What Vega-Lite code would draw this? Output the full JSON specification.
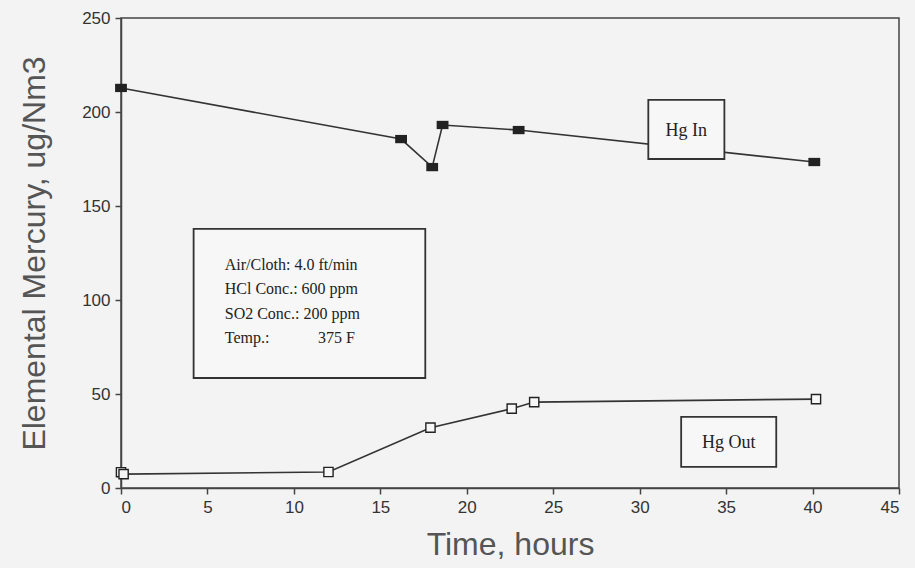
{
  "$schema": "https://vega.github.io/schema/vega-lite/v6.json",
  "width": 778,
  "height": 470,
  "padding": {"left": 121, "top": 18, "right": 16, "bottom": 80},
  "autosize": {"type": "none"},
  "background": "#f3f3f3",
  "config": {
    "view": {"stroke": "#444", "strokeWidth": 1.5},
    "axis": {
      "grid": false,
      "domainColor": "#444",
      "domainWidth": 1.5,
      "tickColor": "#444",
      "tickWidth": 1.5,
      "tickSize": 6,
      "labelFont": "Liberation Sans",
      "labelFontSize": 17,
      "labelColor": "#333",
      "titleFont": "Liberation Sans",
      "titleFontSize": 32,
      "titleFontWeight": "normal",
      "titleColor": "#555"
    }
  },
  "datasets": {
    "series": [
      {"series": "Hg In", "time": 0, "value": 212.8},
      {"series": "Hg In", "time": 16.2, "value": 185.6},
      {"series": "Hg In", "time": 18.0, "value": 170.7},
      {"series": "Hg In", "time": 18.6, "value": 193.1},
      {"series": "Hg In", "time": 23.0, "value": 190.4},
      {"series": "Hg In", "time": 40.1, "value": 173.4},
      {"series": "Hg Out", "time": 0, "value": 8.4},
      {"series": "Hg Out", "time": 0.15, "value": 7.4},
      {"series": "Hg Out", "time": 12.0, "value": 8.5},
      {"series": "Hg Out", "time": 17.9, "value": 32.1},
      {"series": "Hg Out", "time": 22.6, "value": 42.2},
      {"series": "Hg Out", "time": 23.9, "value": 45.7},
      {"series": "Hg Out", "time": 40.2, "value": 47.3}
    ],
    "boxes": [
      {"x": 30.5, "x2": 34.9, "y": 206.4, "y2": 175.0},
      {"x": 32.4, "x2": 37.9, "y": 37.8, "y2": 11.2},
      {"x": 4.2, "x2": 17.6, "y": 137.8, "y2": 58.5}
    ],
    "centerLabels": [
      {"x": 32.7, "y": 190.0, "label": "Hg In"},
      {"x": 35.15, "y": 24.0, "label": "Hg Out"}
    ],
    "leftLabels": [
      {"x": 6.0, "y": 118.6, "label": "Air/Cloth: 4.0 ft/min"},
      {"x": 6.0, "y": 105.9, "label": "HCl Conc.: 600 ppm"},
      {"x": 6.0, "y": 92.6, "label": "SO2 Conc.: 200 ppm"},
      {"x": 6.0, "y": 79.8, "label": "Temp.:"},
      {"x": 11.4, "y": 79.8, "label": "375 F"}
    ]
  },
  "layer": [
    {
      "data": {"name": "series"},
      "transform": [{"filter": "datum.series === 'Hg In'"}],
      "mark": {"type": "line", "color": "#333", "strokeWidth": 1.6},
      "encoding": {
        "x": {"field": "time", "type": "quantitative", "scale": {"domain": [0, 45], "nice": false},
              "axis": {"values": [0, 5, 10, 15, 20, 25, 30, 35, 40, 45], "title": "Time, hours", "labelPadding": 5, "titlePadding": 14}},
        "y": {"field": "value", "type": "quantitative", "scale": {"domain": [0, 250], "nice": false},
              "axis": {"values": [0, 50, 100, 150, 200, 250], "title": "Elemental Mercury, ug/Nm3", "labelPadding": 5, "titlePadding": 30}}
      }
    },
    {
      "data": {"name": "series"},
      "transform": [{"filter": "datum.series === 'Hg Out'"}],
      "mark": {"type": "line", "color": "#333", "strokeWidth": 1.6},
      "encoding": {
        "x": {"field": "time", "type": "quantitative"},
        "y": {"field": "value", "type": "quantitative"}
      }
    },
    {
      "data": {"name": "boxes"},
      "mark": {"type": "rect", "fill": "#f7f7f7", "stroke": "#333", "strokeWidth": 1.8},
      "encoding": {
        "x": {"field": "x", "type": "quantitative"},
        "x2": {"field": "x2"},
        "y": {"field": "y", "type": "quantitative"},
        "y2": {"field": "y2"}
      }
    },
    {
      "data": {"name": "series"},
      "transform": [{"filter": "datum.series === 'Hg In'"}],
      "mark": {"type": "point", "shape": "M-1,-0.7L1,-0.7L1,0.7L-1,0.7Z", "filled": true, "color": "#222", "size": 140, "opacity": 1},
      "encoding": {
        "x": {"field": "time", "type": "quantitative"},
        "y": {"field": "value", "type": "quantitative"}
      }
    },
    {
      "data": {"name": "series"},
      "transform": [{"filter": "datum.series === 'Hg Out'"}],
      "mark": {"type": "point", "shape": "square", "filled": false, "fill": "#f7f7f7", "stroke": "#222", "strokeWidth": 1.4, "size": 85, "opacity": 1},
      "encoding": {
        "x": {"field": "time", "type": "quantitative"},
        "y": {"field": "value", "type": "quantitative"}
      }
    },
    {
      "data": {"name": "centerLabels"},
      "mark": {"type": "text", "font": "Liberation Serif", "color": "#222", "baseline": "middle", "align": "center", "fontSize": 18},
      "encoding": {
        "x": {"field": "x", "type": "quantitative"},
        "y": {"field": "y", "type": "quantitative"},
        "text": {"field": "label"}
      }
    },
    {
      "data": {"name": "leftLabels"},
      "mark": {"type": "text", "font": "Liberation Serif", "color": "#222", "baseline": "middle", "align": "left", "fontSize": 16},
      "encoding": {
        "x": {"field": "x", "type": "quantitative"},
        "y": {"field": "y", "type": "quantitative"},
        "text": {"field": "label"}
      }
    }
  ]
}
